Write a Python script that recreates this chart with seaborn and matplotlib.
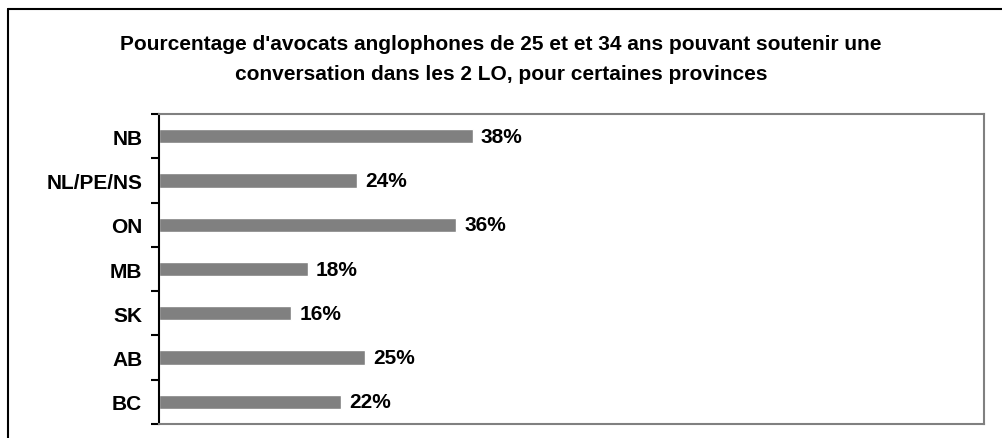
import matplotlib
matplotlib.use('Agg')
import pandas as pd
import matplotlib.pyplot as plt
from matplotlib.lines import Line2D
from matplotlib.ticker import FixedLocator
import seaborn as sns

sns.set_style('white')
plt.rcParams['font.family'] = ['Liberation Sans', 'DejaVu Sans']
plt.rcParams['text.color'] = 'black'
plt.rcParams['ytick.color'] = 'black'

provinces = ['NB', 'NL/PE/NS', 'ON', 'MB', 'SK', 'AB', 'BC']
pct = [38, 24, 36, 18, 16, 25, 22]
title_lines = ["Pourcentage d'avocats anglophones de 25 et et 34 ans pouvant soutenir une",
               "conversation dans les 2 LO, pour certaines provinces"]

df = pd.DataFrame({'province': provinces, 'pct': pct})

W, H = 1002, 439
fig = plt.figure(figsize=(W / 100, H / 100), dpi=100)
ax = fig.add_axes([159 / W, 1 - 425 / H, (984 - 159) / W, (425 - 115) / H])

sns.barplot(data=df, x='pct', y='province', orient='h', color='#808080',
            saturation=1, width=0.32, order=provinces, ax=ax)

ax.set_xlim(0, 100)
ax.set_ylim(len(provinces) - 0.5, -0.5)
ax.set_xlabel('')
ax.set_ylabel('')
ax.set_xticks([])

# category labels without ticks, boundary ticks as minor
ax.tick_params(axis='y', which='major', length=0, pad=12, labelsize=15,
               labelcolor='black')
for lab in ax.get_yticklabels():
    lab.set_fontweight('bold')
ax.yaxis.set_minor_locator(FixedLocator([i - 0.5 for i in range(len(provinces) + 1)]))
ax.tick_params(axis='y', which='minor', length=6, width=1.5, color='black', left=True)

for side in ['top', 'right', 'bottom']:
    ax.spines[side].set_color('#808080')
    ax.spines[side].set_linewidth(1.5)
ax.spines['left'].set_color('black')
ax.spines['left'].set_linewidth(1.5)

ax.bar_label(ax.containers[0], labels=[f'{v}%' for v in pct], padding=6,
             fontsize=15, fontweight='bold', color='black')

fig.text(0.5, 1 - 50 / H, title_lines[0], ha='center', va='baseline',
         fontsize=15, fontweight='bold')
fig.text(0.5, 1 - 80 / H, title_lines[1], ha='center', va='baseline',
         fontsize=15, fontweight='bold')

# outer frame (extends past right/bottom edges)
fig.add_artist(Line2D([8 / W, 8 / W], [0, 1 - 10 / H], color='black', lw=1.5,
                      transform=fig.transFigure))
fig.add_artist(Line2D([8 / W, 1], [1 - 10 / H, 1 - 10 / H], color='black', lw=1.5,
                      transform=fig.transFigure))

fig.savefig('out.png', dpi=100)
